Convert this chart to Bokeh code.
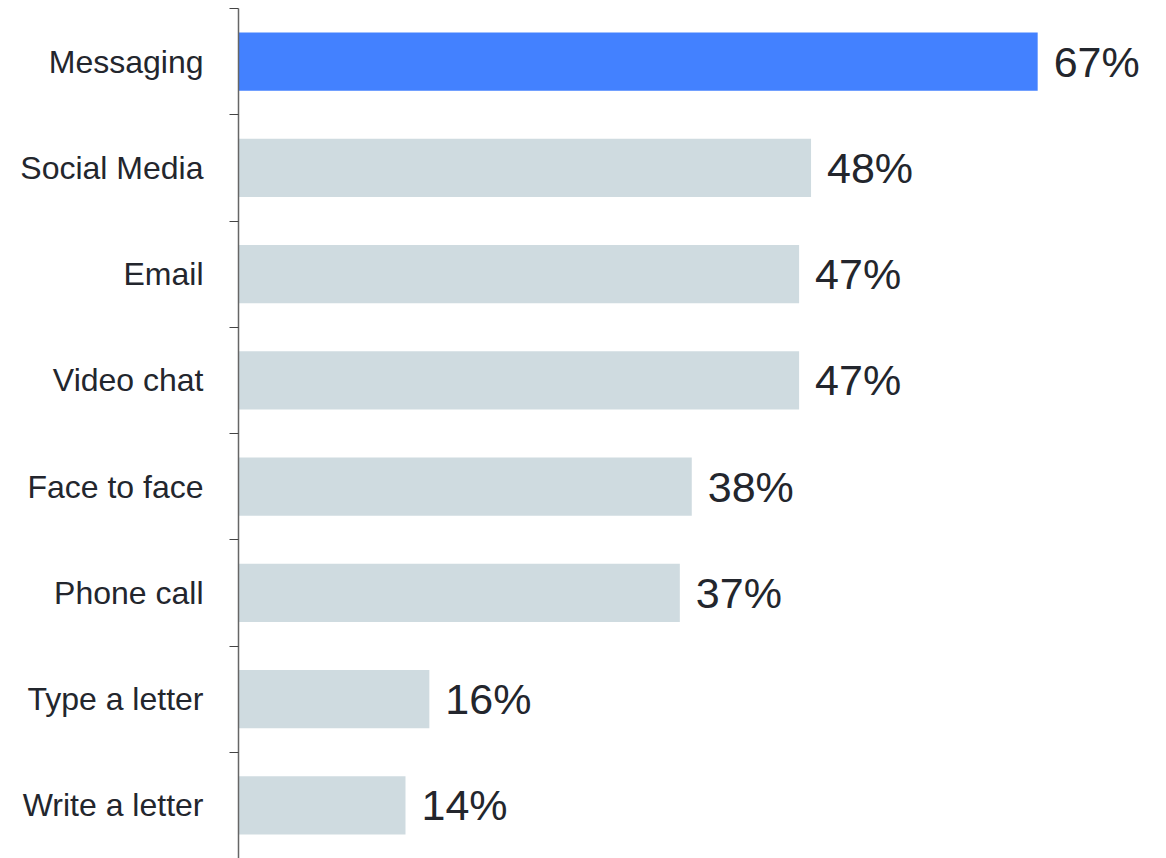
from bokeh.plotting import figure
from bokeh.models import Range1d, FixedTicker, ColumnDataSource
from bokeh.core.properties import value
from bokeh.embed import file_html
from bokeh.resources import INLINE

categories = ["Messaging", "Social Media", "Email", "Video chat", "Face to face",
              "Phone call", "Type a letter", "Write a letter"]
values = [67, 48, 47, 47, 38, 37, 16, 14]
highlight = "Messaging"

n = len(categories)
ypos = [n - i - 0.5 for i in range(n)]
colors = ["#4381FF" if c == highlight else "#CFDBE0" for c in categories]
labels = [f"{v}%" for v in values]

src = ColumnDataSource(dict(y=ypos, v=values, color=colors, label=labels))

FONT = "Liberation Sans"
TEXT = "#23262d"

p = figure(width=1166, height=858, output_backend="svg", toolbar_location=None,
           x_axis_type=None, x_range=Range1d(0, 77.8), y_range=Range1d(0, n),
           min_border_left=238, min_border_right=0, min_border_top=8,
           min_border_bottom=0)
p.outline_line_color = None
p.xgrid.visible = False
p.ygrid.visible = False
p.background_fill_color = "white"
p.border_fill_color = "white"

p.hbar(y="y", right="v", left=0, height=0.55, color="color", line_color=None, source=src)
p.text(x="v", y="y", text="label", source=src, x_offset=16, text_baseline="middle",
       text_align="left", text_font=value(FONT), text_font_size="43px", text_color=TEXT)

ax = p.yaxis[0]
ax.ticker = FixedTicker(ticks=ypos, minor_ticks=list(range(n + 1)))
ax.major_label_overrides = {y: c for y, c in zip(ypos, categories)}
ax.major_tick_out = 0
ax.major_tick_in = 0
ax.minor_tick_out = 9
ax.minor_tick_in = 0
ax.minor_tick_line_color = "#444444"
ax.minor_tick_line_width = 1.2
ax.axis_line_color = "#666666"
ax.axis_line_width = 1.5
ax.major_label_standoff = 26
ax.major_label_text_font = FONT
ax.major_label_text_font_size = "32px"
ax.major_label_text_color = TEXT

open("out.html", "w").write(file_html(p, INLINE))
